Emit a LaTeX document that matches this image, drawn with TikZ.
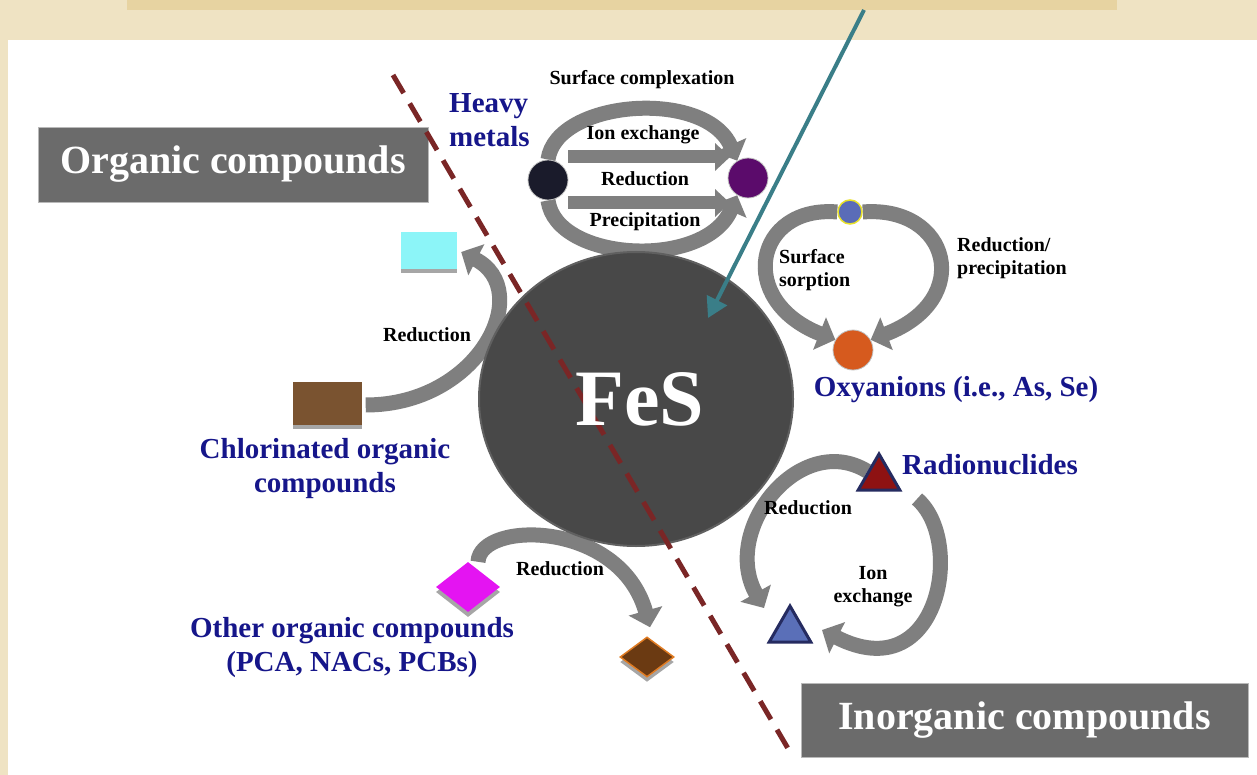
\documentclass[tikz,border=0pt]{standalone}
\usepackage{fontspec}
\setmainfont{Liberation Serif}
\usetikzlibrary{arrows.meta,calc,shapes.geometric,shadows}
\definecolor{pagebeige}{HTML}{EFE3C3}
\definecolor{bandbeige}{HTML}{E7D3A1}
\definecolor{catblue}{HTML}{16168A}
\definecolor{boxgray}{HTML}{6B6B6B}
\definecolor{flowgray}{HTML}{7F7F7F}
\definecolor{fesgray}{HTML}{484848}
\definecolor{divred}{HTML}{7A2626}
\definecolor{pointerteal}{HTML}{3A7E88}
\definecolor{metaldark}{HTML}{1A1B2B}
\definecolor{metalpurple}{HTML}{5B0B6B}
\definecolor{oxblue}{HTML}{5A6CB8}
\definecolor{oxyellow}{HTML}{E9E22A}
\definecolor{oxorange}{HTML}{D65A1E}
\definecolor{clcyan}{HTML}{8CF5F8}
\definecolor{clbrown}{HTML}{7A5330}
\definecolor{ocmagenta}{HTML}{E414F2}
\definecolor{ocbrown}{HTML}{6B3A12}
\definecolor{ocorange}{HTML}{E07B22}
\definecolor{rnred}{HTML}{8E1212}
\definecolor{rnblue}{HTML}{5A6FB8}
\definecolor{rnnavy}{HTML}{252B60}
\pgfdeclarelayer{base}
\pgfdeclarelayer{flows}
\pgfsetlayers{base,flows,main}
\begin{document}
\begin{tikzpicture}[x=1pt,y=-1pt,
    flow/.style={draw=flowgray,line width=15pt,-{Triangle[length=17pt,width=34pt]}},
    flowbar/.style={draw=flowgray,line width=13pt,-{Triangle[length=15pt,width=27pt]}},
    catbox/.style={rectangle,fill=boxgray,draw=gray!55,line width=0.8pt,text=white,
      font=\fontsize{40}{44}\selectfont\bfseries,inner sep=0pt},
    cat/.style={text=catblue,font=\fontsize{29}{34}\selectfont\bfseries,align=center,inner sep=0pt},
    lbl/.style={text=black,font=\fontsize{20}{23}\selectfont\bfseries,align=left,inner sep=0pt},
    dot/.style={circle,minimum size=40pt,inner sep=0pt,draw=gray!50,line width=0.8pt},
    blk/.style={rectangle,inner sep=0pt,drop shadow={shadow xshift=0pt,shadow yshift=-4pt,fill=black!35,opacity=1}},
    gem/.style={diamond,inner sep=0pt,drop shadow={shadow xshift=0pt,shadow yshift=-5pt,fill=black!35,opacity=1}},
    tri/.style={regular polygon,regular polygon sides=3,minimum size=48pt,inner sep=0pt,line width=3pt,draw=rnnavy},
    divider/.style={draw=divred,line width=5pt,dash pattern=on 21pt off 12pt},
    pointer/.style={draw=pointerteal,line width=4pt,-{Triangle[length=20pt,width=22pt]}}]
  \useasboundingbox (0,0) rectangle (1257,775);
  \begin{pgfonlayer}{base}
    \fill[pagebeige] (0,0) rectangle (1257,775);
    \fill[bandbeige] (127,0) rectangle (1117,10);
    \fill[white] (8,40) rectangle (1257,775);
  \end{pgfonlayer}

  % category boxes
  \node[catbox,minimum width=390pt,minimum height=75pt] (org) at (233,164.5) {Organic compounds};
  \node[catbox,minimum width=447pt,minimum height=74pt] (inorg) at (1024.5,720) {Inorganic compounds};

  % heavy metals
  \node[dot,fill=metaldark] (hmA) at (548,180) {};
  \node[dot,fill=metalpurple] (hmB) at (748,178) {};
  \node[cat,align=left,anchor=west] (hm) at (449,120) {Heavy\\metals};
  \node[lbl] (hmSC) at (642,80) {Surface complexation};
  \node[lbl] (hmIE) at (643,135) {Ion exchange};
  \node[lbl] (hmRd) at (645,179) {Reduction};
  \node[lbl] (hmPr) at (645,222) {Precipitation};

  % oxyanions
  \node[dot,minimum size=24pt,fill=oxblue,draw=oxyellow,line width=1.5pt] (oxA) at (850,212) {};
  \node[dot,fill=oxorange] (oxB) at (853,350) {};
  \node[lbl,anchor=west] (oxSS) at (779,270) {Surface\\sorption};
  \node[lbl,anchor=west] (oxRP) at (957,258) {Reduction/\\precipitation};
  \node[cat] (ox) at (956,390) {Oxyanions (i.e., As, Se)};

  % chlorinated organics
  \node[blk,fill=clcyan,minimum width=56pt,minimum height=37pt] (clP) at (429,251) {};
  \node[blk,fill=clbrown,minimum width=69pt,minimum height=43pt] (clR) at (327,403) {};
  \node[lbl] (clRd) at (427,335) {Reduction};
  \node[cat] (cl) at (325,469) {Chlorinated organic\\compounds};

  % other organics
  \node[gem,fill=ocmagenta,minimum width=64pt,minimum height=50pt] (ocA) at (468,587) {};
  \node[gem,fill=ocbrown,draw=ocorange,line width=1.5pt,minimum width=54pt,minimum height=40pt] (ocB) at (647,657) {};
  \node[lbl] (ocRd) at (560,569) {Reduction};
  \node[cat] (oc) at (352,648) {Other organic compounds\\(PCA, NACs, PCBs)};

  % radionuclides
  \node[tri,fill=rnred] (rnA) at (879,478) {};
  \node[tri,fill=rnblue] (rnB) at (790,630) {};
  \node[cat,anchor=west] (rn) at (902,465) {Radionuclides};
  \node[lbl] (rnRd) at (808,508) {Reduction};
  \node[lbl,align=center] (rnIE) at (873,587) {Ion\\exchange};

  \begin{pgfonlayer}{flows}
    \draw[flow] (hmA.north) .. controls (556,100) and (705,88) .. (hmB.122);
    \draw[flow] (hmA.south) .. controls (556,262) and (705,270) .. (hmB.238);
    \draw[flowbar] ($(hmA)+(20,-23)$) -- ($(hmB)+(-18,-21)$);
    \draw[flowbar] ($(hmA)+(20,23)$) -- ($(hmB)+(-18,25)$);
    \draw[flow] (oxA.west) .. controls (755,205) and (735,300) .. (oxB.150);
    \draw[flow] (oxA.east) .. controls (950,205) and (975,300) .. (oxB.30);
    \draw[flow] ($(clR.east)+(4,2)$) .. controls (480,405) and (535,290) .. ($(clP.east)+(4,1)$);
    \draw[flow] ($(ocA.north)+(10,0)$) .. controls (480,520) and (620,520) .. ($(ocB.north)+(3,-9)$);
    \draw[flow] (rnA.150) .. controls (800,430) and (720,530) .. ($(rnB)+(-26,-22)$);
    \draw[flow] ($(rnA)+(38,21)$) .. controls (965,540) and (940,690) .. ($(rnB)+(32,0)$);
  \end{pgfonlayer}

  % iron sulfide
  \node[ellipse,fill=fesgray,draw=gray!75!black,line width=2pt,minimum width=314pt,minimum height=294pt] (fes) at (636,399) {};

  % divider and pointer
  \coordinate (divtop) at (393,75);
  \coordinate (divbot) at (793,757);
  \draw[divider] (divtop) -- (divbot);
  \node[text=white,font=\fontsize{80}{80}\selectfont\bfseries,inner sep=0pt] (fesname) at ($(fes)+(4,0)$) {FeS};
  \coordinate (src) at (864,10);
  \draw[pointer] (src) -- ($(fes)+(72,-81)$);
\end{tikzpicture}
\end{document}
